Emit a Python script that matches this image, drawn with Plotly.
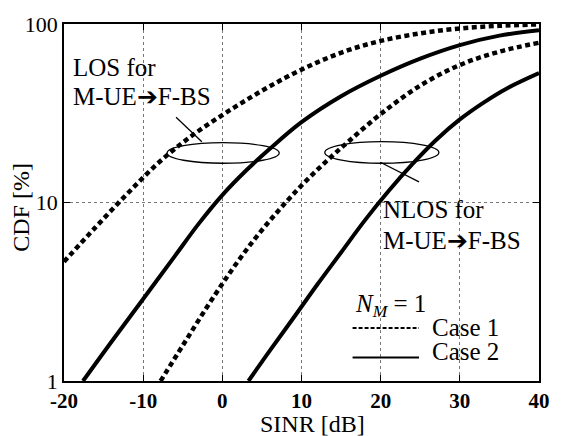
import plotly.graph_objects as go

# ---- data (SINR in dB, CDF in %) ----
los_case1_x = [-20, -16, -12, -8, -4, 0, 4, 8, 12, 16, 20, 25, 30, 35, 40]
los_case1_y = [4.66, 7.28, 11.2, 16.8, 23.4, 30.9, 39.8, 50.1, 61.0, 71.6, 80.4, 88.7, 94.4, 97.7, 99.5]

los_case2_x = [-17.6, -14, -10, -6, -3, 0, 3, 6, 10, 15, 20, 25, 30, 35, 40]
los_case2_y = [1.0, 1.66, 2.88, 5.01, 7.59, 11.0, 15.1, 20.0, 28.2, 39.4, 51.3, 64.0, 76.2, 86.1, 92.3]

nlos_case1_x = [-7.8, -5, -2, 1, 4, 7, 10, 13, 16, 20, 25, 30, 35, 40]
nlos_case1_y = [1.0, 1.58, 2.57, 4.07, 6.17, 8.91, 12.45, 16.8, 22.1, 31.3, 45.2, 58.9, 70.0, 78.5]

nlos_case2_x = [3.3, 6, 9, 12, 15, 18, 21, 24, 27, 30, 33, 36, 40]
nlos_case2_y = [1.0, 1.48, 2.26, 3.47, 5.25, 7.94, 11.6, 16.4, 22.4, 29.2, 36.3, 43.7, 53.1]

x_ticks = [-20, -10, 0, 10, 20, 30, 40]
y_ticks = [1, 10, 100]
y_tick_labels = ["1", "10", "100"]

FONT = "Liberation Serif"
W, H = 562, 436
L, R, T, B = 64, 19, 17, 55
PW, PH = W - L - R, H - T - B


def px(x):
    return (x - L) / PW


def py(y):
    return (H - B - y) / PH


fig = go.Figure()
dash_style = "5px,3.5px"
for xs, ys, dash in [
    (los_case1_x, los_case1_y, dash_style),
    (los_case2_x, los_case2_y, "solid"),
    (nlos_case1_x, nlos_case1_y, dash_style),
    (nlos_case2_x, nlos_case2_y, "solid"),
]:
    fig.add_trace(go.Scatter(
        x=xs, y=ys, mode="lines",
        line=dict(color="black", width=4.5 if dash != "solid" else 4, dash=dash,
                  shape="spline", smoothing=1.0),
        showlegend=False, hoverinfo="skip"))

shapes = [
    # ellipses
    dict(type="circle", xref="paper", yref="paper", x0=px(168), x1=px(281), y0=py(159), y1=py(138),
         line=dict(color="black", width=1.3)),
    dict(type="circle", xref="paper", yref="paper", x0=px(327), x1=px(442), y0=py(159), y1=py(137),
         line=dict(color="black", width=1.3)),
    # pointer lines
    dict(type="line", xref="paper", yref="paper", x0=px(177), y0=py(112), x1=px(203), y1=py(137),
         line=dict(color="black", width=1.3)),
    dict(type="line", xref="paper", yref="paper", x0=px(383), y0=py(158), x1=px(422), y1=py(178),
         line=dict(color="black", width=1.3)),
    # legend samples
    dict(type="line", xref="paper", yref="paper", x0=px(355), y0=py(327), x1=px(422), y1=py(327),
         line=dict(color="black", width=2, dash="4px,2px")),
    dict(type="line", xref="paper", yref="paper", x0=px(355), y0=py(357), x1=px(422), y1=py(357),
         line=dict(color="black", width=2)),
]

ARROW = "<span style='font-family:DejaVu Sans'>\u2794</span>"
tf = dict(family=FONT, size=25, color="black")
annotations = [
    dict(text="LOS for", x=px(71), y=py(61)),
    dict(text="M-UE" + ARROW + "F-BS", x=px(71), y=py(91)),
    dict(text="NLOS for", x=px(384), y=py(206)),
    dict(text="M-UE" + ARROW + "F-BS", x=px(384), y=py(238)),
    dict(text="<i>N</i><sub><i>M</i></sub> = 1", x=px(355), y=py(304)),
    dict(text="Case 1", x=px(433), y=py(326)),
    dict(text="Case 2", x=px(433), y=py(351)),
]
for a in annotations:
    a.update(xref="paper", yref="paper", showarrow=False, font=tf,
             xanchor="left", yanchor="middle")

# axis titles
annotations.append(dict(text="SINR [dB]", x=px(315), y=py(425), xref="paper", yref="paper",
                        showarrow=False, xanchor="center", yanchor="middle",
                        font=dict(family=FONT, size=24, color="black")))
annotations.append(dict(text="CDF [%]", x=px(21), y=py(204), xref="paper", yref="paper",
                        showarrow=False, xanchor="center", yanchor="middle", textangle=-90,
                        font=dict(family=FONT, size=24, color="black")))

fig.update_layout(
    width=W, height=H,
    margin=dict(l=L, r=R, t=T, b=B),
    paper_bgcolor="white", plot_bgcolor="white",
    shapes=shapes, annotations=annotations,
    showlegend=False,
    xaxis=dict(
        range=[-20, 40], tickvals=x_ticks, ticktext=[str(v) for v in x_ticks],
        ticks="inside", ticklen=6, tickcolor="black", mirror="ticks",
        showline=True, linecolor="black", linewidth=1.5,
        showgrid=True, gridcolor="#777", griddash="dot", gridwidth=1,
        zeroline=False,
        tickfont=dict(family=FONT, size=21, color="black", weight="bold"),
    ),
    yaxis=dict(
        type="log", range=[0, 2], tickvals=y_ticks, ticktext=y_tick_labels,
        ticks="inside", ticklen=6, tickcolor="black", mirror="ticks",
        showline=True, linecolor="black", linewidth=1.5,
        showgrid=True, gridcolor="#777", griddash="dot", gridwidth=1,
        zeroline=False,
        tickfont=dict(family=FONT, size=22, color="black"),
    ),
)

fig.write_html("out.html")
